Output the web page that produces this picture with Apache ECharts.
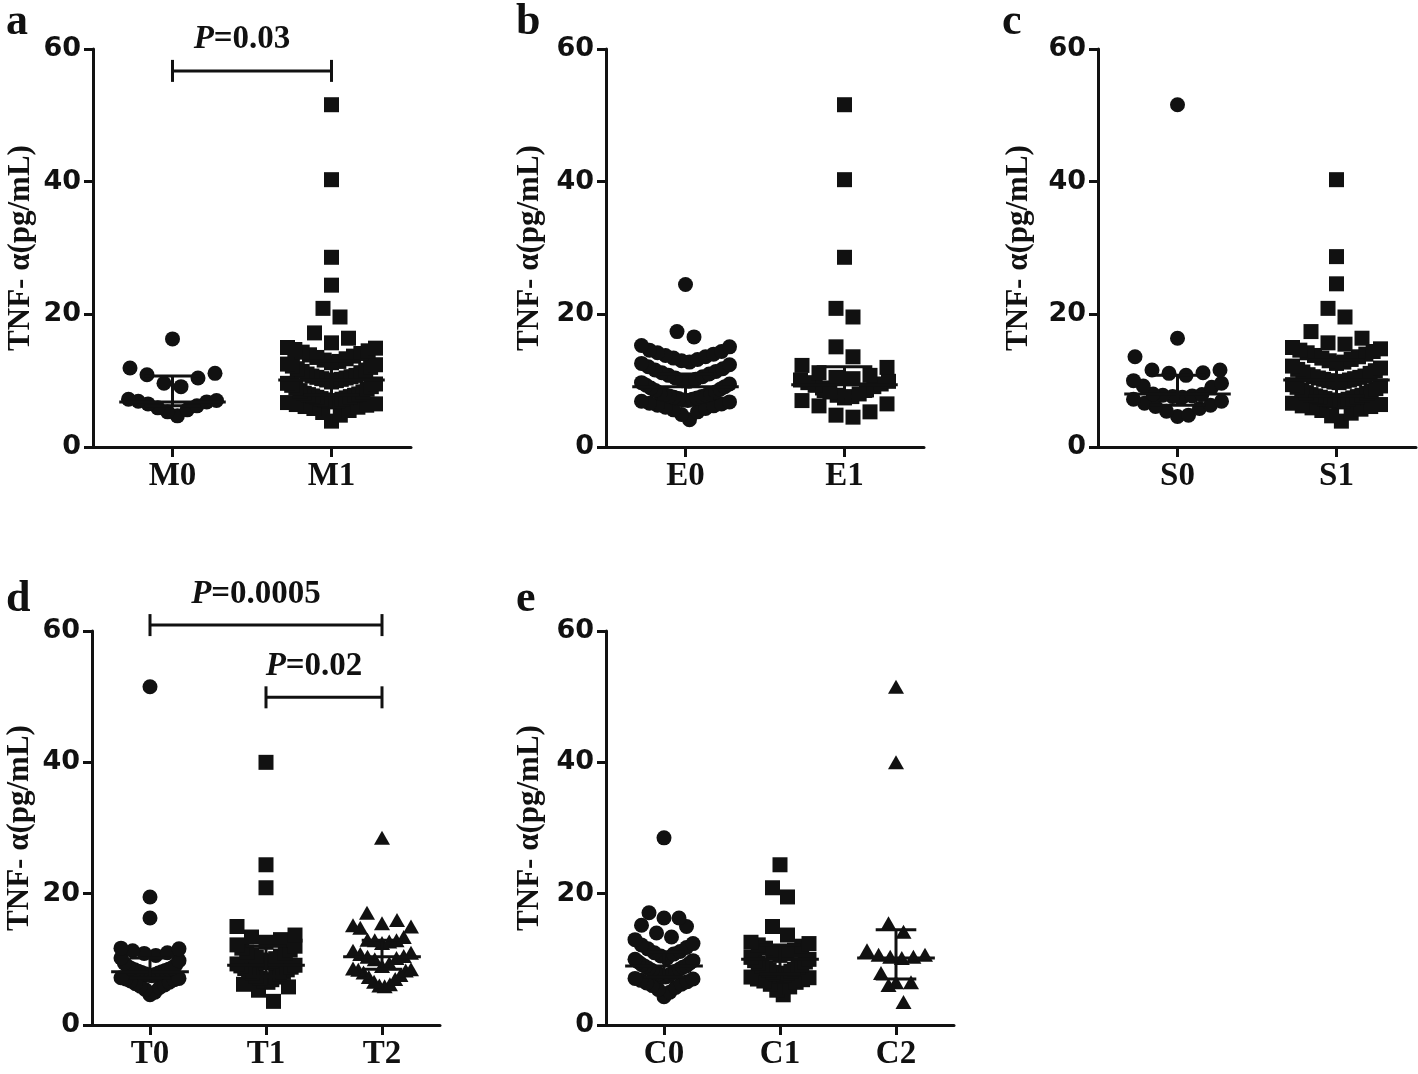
<!DOCTYPE html>
<html><head><meta charset="utf-8">
<script src="https://cdn.jsdelivr.net/npm/echarts@6/dist/echarts.min.js"></script>
<style>html,body{margin:0;padding:0;background:#fff}#c{width:1418px;height:1074px}</style>
</head><body><div id="c"></div>
<script>
// ---------------- data ----------------
const yTicks = [0, 20, 40, 60];
const yTitle = 'TNF- α(pg/mL)';

const catsA = ['M0', 'M1'];
const catsB = ['E0', 'E1'];
const catsC = ['S0', 'S1'];
const catsD = ['T0', 'T1', 'T2'];
const catsE = ['C0', 'C1', 'C2'];

const M0 = [4.7, 5.3, 5.6, 5.9, 6.2, 6.5, 6.8, 6.9, 7.0, 7.2, 9.1, 9.6, 10.4, 10.9, 11.1, 11.9, 16.3];
const M1 = [3.9, 4.8, 5.2, 5.5, 5.8, 6.0, 6.1, 6.3, 6.4, 6.5,
  6.7, 6.8, 6.9, 7.0, 7.1, 7.2, 7.3, 7.4, 7.5, 7.6, 7.7, 7.8, 7.9, 8.0, 8.1, 8.3, 8.5, 8.7, 8.9, 9.1,
  9.3, 9.5, 9.6, 9.8, 10.0, 10.1, 10.2, 10.3, 10.4, 10.5, 10.6, 10.7, 10.8, 11.0, 11.2, 11.4, 11.6, 11.8, 12.0,
  12.2, 12.4, 12.5, 12.7, 12.9, 13.1, 13.3, 13.5, 13.7, 13.9, 14.1, 14.3, 14.5, 14.7, 14.9, 15.0,
  15.7, 16.4, 17.2, 19.6, 20.9, 24.4, 28.6, 40.3, 51.6];

const E0 = [4.1, 4.9, 5.3, 5.6, 5.8, 6.0, 6.2, 6.3, 6.5, 6.6, 6.8, 6.9,
  7.0, 7.1, 7.2, 7.3, 7.4, 7.5, 7.6, 7.7, 7.8, 7.9, 8.0, 8.1, 8.3, 8.5, 8.7, 8.9, 9.1, 9.3, 9.5,
  9.7, 9.9, 10.0, 10.2, 10.4, 10.6, 10.8, 11.0, 11.2, 11.4, 11.6, 11.8, 12.1,
  12.4, 12.6, 12.8, 13.0, 13.2, 13.4, 13.6, 13.8, 14.0, 14.2, 14.4, 14.6,
  15.1, 15.3, 16.6, 17.4, 24.5];
const E1 = [4.5, 4.8, 5.3, 6.2, 6.5, 7.0, 7.4, 7.6, 7.8, 8.0, 8.3, 8.6, 8.9, 9.1, 9.3, 9.5, 9.7, 9.9,
  10.1, 10.3, 10.5, 10.8, 11.2, 12.0, 12.3, 13.6, 15.1, 19.6, 20.9, 28.6, 40.3, 51.6];

const S0 = [4.6, 4.8, 5.4, 5.8, 6.1, 6.3, 6.6, 6.9, 7.2, 7.5, 7.6, 7.7, 7.8, 7.9, 8.0, 9.0, 9.2, 9.6, 10.0,
  10.8, 11.1, 11.2, 11.6, 11.6, 13.6, 16.4, 51.6];
const S1 = [3.9, 4.7, 5.1, 5.5, 5.7, 5.9, 6.1, 6.2, 6.4, 6.6,
  6.8, 6.9, 7.0, 7.1, 7.2, 7.3, 7.4, 7.5, 7.6, 7.7, 7.8, 7.9, 8.1, 8.2, 8.4, 8.6, 8.8, 9.0, 9.2, 9.4,
  9.7, 9.8, 9.9, 10.0, 10.1, 10.2, 10.3, 10.4, 10.5, 10.6, 10.7, 10.9, 11.1, 11.3, 11.5, 11.7, 11.9, 12.2,
  12.6, 12.8, 13.0, 13.2, 13.4, 13.6, 13.8, 14.0, 14.2, 14.4, 14.6, 14.8, 15.0,
  15.5, 15.7, 16.4, 17.4, 19.6, 20.9, 24.6, 28.7, 40.3];

const T0 = [4.6, 5.0, 5.4, 5.7, 5.9, 6.1, 6.3, 6.5, 6.7, 6.9, 7.0, 7.1, 7.2,
  7.5, 7.6, 7.7, 7.8, 7.9, 8.0, 8.1, 8.2, 8.3, 8.4, 8.5, 8.6, 8.7, 8.9, 9.1, 9.4, 9.8, 10.2,
  10.6, 10.9, 11.0, 11.3, 11.6, 11.7, 16.3, 19.5, 51.5];
const T1 = [3.6, 5.3, 5.8, 6.2, 6.5, 6.7, 6.9, 7.1, 7.3, 7.5, 7.7, 7.9, 8.0, 8.2, 8.4, 8.6, 8.8, 9.0, 9.1,
  9.3, 9.5, 9.7, 9.9, 10.1, 10.3, 10.5, 10.7, 10.9, 11.1, 11.4, 11.7, 12.0, 12.2,
  12.6, 13.0, 13.4, 13.7, 15.0, 20.9, 24.4, 40.0];
const T2 = [5.9, 6.0, 6.2, 6.6, 7.0, 7.3, 7.6, 8.0, 8.3, 8.4, 8.5, 8.6, 9.0, 9.4, 10.0, 10.2, 10.4, 10.5,
  10.8, 11.0, 11.3, 12.5, 12.7, 12.9, 12.9, 13.0, 13.4, 14.8, 15.0, 15.2, 15.5, 16.0, 17.1, 28.5];

const C0 = [4.3, 5.0, 5.4, 5.7, 6.0, 6.2, 6.4, 6.6, 6.8, 7.0, 7.1,
  7.3, 7.4, 7.6, 7.8, 7.9, 8.0, 8.2, 8.3, 8.5, 8.6, 8.8, 8.9, 9.0, 9.2, 9.4, 9.6, 9.8, 10.0,
  10.2, 10.5, 10.8, 11.0, 11.2, 11.6, 11.8, 12.2, 12.4, 13.0, 13.4, 14.0, 15.0, 15.2, 16.3, 16.3, 17.1, 28.5];
const C1 = [4.6, 5.3, 5.8, 6.2, 6.5, 6.7, 6.9, 7.0, 7.2, 7.3, 7.5, 7.6, 7.8, 7.9, 8.0, 8.2, 8.4, 8.5, 8.7,
  8.9, 9.0, 9.2, 9.4, 9.6, 9.8, 10.0, 10.3, 10.6, 10.9, 11.1, 11.4, 11.7, 12.0, 12.2, 12.4, 12.6,
  13.7, 15.0, 19.5, 20.9, 24.4];
const C2 = [3.5, 6.1, 6.5, 6.5, 7.9, 10.2, 10.4, 10.4, 10.7, 10.7, 11.4, 14.2, 15.5, 40.0, 51.5];

// median and interquartile range lines
const medA = [6.8, 10.1], q1A = [6.2, 7.8], q3A = [10.7, 13.0];
const medB = [9.1, 9.4], q1B = [7.3, 7.6], q3B = [11.0, 12.1];
const medC = [8.0, 10.1], q1C = [6.3, 7.7], q3C = [10.8, 13.1];
const medD = [8.1, 9.1, 10.4], q1D = [7.2, 7.4, 8.5], q3D = [10.2, 12.0, 12.9];
const medE = [9.0, 10.0, 10.2], q1E = [7.3, 7.8, 7.0], q3E = [11.1, 12.2, 14.5];

// significance brackets: [fromCategory, toCategory, y value]
const sigA = [[0, 1, 56.7]];
const sigALabels = ['0.03'];
const sigD = [[0, 2, 60.9], [1, 2, 49.9]];
const sigDLabels = ['0.0005', '0.02'];

// ---------------- style / layout ----------------
const INK = '#111111';
const SERIF = '"Liberation Serif","Times New Roman",serif';
const SANS = '"DejaVu Sans","Liberation Sans",sans-serif';
const SYMS = ['circle', 'rect', 'triangle'];
const SYM_SIZE = { circle: 15, rect: 15, triangle: [16, 14] };

const panels = [
  { letter: 'a', lx: 6, ly: 1, left: 93, top: 49, width: 318, height: 398, cats: catsA, groups: [M0, M1], med: medA, q1: q1A, q3: q3A, gap: 57, sig: sigA, sigL: sigALabels, sMax: 17, maxW: 88 },
  { letter: 'b', lx: 516, ly: 1, left: 606, top: 49, width: 318, height: 398, cats: catsB, groups: [E0, E1], med: medB, q1: q1B, q3: q3B, gap: 61, sig: [], sigL: [], sMax: 17, maxW: 88 },
  { letter: 'c', lx: 1002, ly: 1, left: 1098, top: 49, width: 318, height: 398, cats: catsC, groups: [S0, S1], med: medC, q1: q1C, q3: q3C, gap: 64, sig: [], sigL: [], sMax: 17, maxW: 88 },
  { letter: 'd', lx: 6, ly: 578, left: 92, top: 631, width: 348, height: 394, cats: catsD, groups: [T0, T1, T2], med: medD, q1: q1D, q3: q3D, gap: 57, sig: sigD, sigL: sigDLabels, sMax: 15, maxW: 58 },
  { letter: 'e', lx: 516, ly: 578, left: 606, top: 631, width: 348, height: 394, cats: catsE, groups: [C0, C1, C2], med: medE, q1: q1E, q3: q3E, gap: 61, sig: [], sigL: [], sMax: 15, maxW: 58 }
];

// GraphPad-like scatter rows: values grouped into rows from the lowest up,
// within a row the lowest sits in the middle and higher ones alternate outwards.
function swarmOffsets(values, pxPerUnit, binPx, sMax, maxW) {
  const idx = values.map((v, i) => i).sort((a, b) => values[a] - values[b]);
  const off = new Array(values.length).fill(0);
  let bin = [], start = null;
  const flush = () => {
    const n = bin.length;
    const s = n > 1 ? Math.min(sMax, maxW / (n - 1)) : 0;
    bin.forEach((id, k) => {
      let o;
      if (n % 2) { const m = Math.ceil(k / 2); o = k === 0 ? 0 : (k % 2 ? 1 : -1) * m * s; }
      else { const m = Math.floor(k / 2); o = (k % 2 ? -1 : 1) * (m + 0.5) * s; }
      off[id] = o;
    });
    bin = [];
  };
  idx.forEach(id => {
    const v = values[id];
    if (start === null || (v - start) * pxPerUnit > binPx) { if (bin.length) flush(); start = v; }
    bin.push(id);
  });
  flush();
  return off;
}

const yMax = yTicks[yTicks.length - 1];
const option = { animation: false, backgroundColor: '#fff', title: [], grid: [], xAxis: [], yAxis: [], series: [] };

panels.forEach((p, pi) => {
  option.title.push({ text: p.letter, left: p.lx, top: p.ly, padding: 0,
    textStyle: { fontFamily: SERIF, fontWeight: 'bold', fontSize: 44, color: INK } });
  option.grid.push({ left: p.left, top: p.top, width: p.width, height: p.height, containLabel: false });
  option.xAxis.push({
    type: 'category', gridIndex: pi, data: p.cats, boundaryGap: true,
    axisLine: { show: true, lineStyle: { color: INK, width: 3 } },
    axisTick: { show: true, alignWithLabel: true, length: 10, lineStyle: { color: INK, width: 3 } },
    axisLabel: { fontFamily: SERIF, fontWeight: 'bold', fontSize: 33, color: INK, margin: 13 },
    splitLine: { show: false }
  });
  option.yAxis.push({
    type: 'value', gridIndex: pi, min: yTicks[0], max: yMax, interval: yTicks[1] - yTicks[0],
    axisLine: { show: true, lineStyle: { color: INK, width: 3 } },
    axisTick: { show: true, length: 9, lineStyle: { color: INK, width: 3 } },
    axisLabel: { fontFamily: SANS, fontWeight: 'bold', fontSize: 27, color: INK, margin: 12 },
    splitLine: { show: false },
    name: yTitle, nameLocation: 'middle', nameRotate: 90, nameGap: p.gap,
    nameTextStyle: { fontFamily: SERIF, fontWeight: 'bold', fontSize: 31, color: INK }
  });
  const pxPerUnit = p.height / (yMax - yTicks[0]);
  p.groups.forEach((vals, gi) => {
    const sym = SYMS[gi];
    const off = swarmOffsets(vals, pxPerUnit, 19, p.sMax, p.maxW);
    option.series.push({
      type: 'scatter', xAxisIndex: pi, yAxisIndex: pi, symbol: sym, symbolSize: SYM_SIZE[sym],
      itemStyle: { color: INK, opacity: 1 }, z: 2, silent: true,
      data: vals.map((v, i) => ({ value: [gi, v], symbolOffset: [off[i], 0] }))
    });
  });
  // median + IQR
  option.series.push({
    type: 'custom', xAxisIndex: pi, yAxisIndex: pi, z: 3, silent: true, clip: false,
    encode: { x: 0, y: [1, 2, 3] },
    data: p.cats.map((c, i) => [i, p.med[i], p.q1[i], p.q3[i]]),
    renderItem(params, api) {
      const i = api.value(0);
      const pm = api.coord([i, api.value(1)]);
      const p1 = api.coord([i, api.value(2)]);
      const p3 = api.coord([i, api.value(3)]);
      const band = api.size([1, 0])[0];
      const mw = band * 0.335, cw = band * 0.175;
      const st = { stroke: INK, lineWidth: 3 };
      return { type: 'group', children: [
        { type: 'line', shape: { x1: pm[0] - mw, y1: pm[1], x2: pm[0] + mw, y2: pm[1] }, style: st },
        { type: 'line', shape: { x1: p1[0], y1: p1[1], x2: p3[0], y2: p3[1] }, style: st },
        { type: 'line', shape: { x1: p1[0] - cw, y1: p1[1], x2: p1[0] + cw, y2: p1[1] }, style: st },
        { type: 'line', shape: { x1: p3[0] - cw, y1: p3[1], x2: p3[0] + cw, y2: p3[1] }, style: st }
      ] };
    }
  });
  if (p.sig.length) {
    const labels = p.sigL;
    option.series.push({
      type: 'custom', xAxisIndex: pi, yAxisIndex: pi, z: 4, silent: true, clip: false,
      encode: { x: [0, 1], y: 2 },
      data: p.sig,
      renderItem(params, api) {
        const a = api.coord([api.value(0), api.value(2)]);
        const b = api.coord([api.value(1), api.value(2)]);
        const h = 11;
        const st = { stroke: INK, lineWidth: 3 };
        return { type: 'group', children: [
          { type: 'line', shape: { x1: a[0], y1: a[1], x2: b[0], y2: b[1] }, style: st },
          { type: 'line', shape: { x1: a[0], y1: a[1] - h, x2: a[0], y2: a[1] + h }, style: st },
          { type: 'line', shape: { x1: b[0], y1: b[1] - h, x2: b[0], y2: b[1] + h }, style: st },
          { type: 'text', x: (a[0] + b[0]) / 2 - 10, y: a[1] - 31,
            style: { text: '{i|P}{n|=' + labels[params.dataIndex] + '}', align: 'center', verticalAlign: 'middle', fill: INK,
              rich: {
                i: { fontFamily: SERIF, fontWeight: 'bold', fontStyle: 'italic', fontSize: 33, fill: INK, color: INK },
                n: { fontFamily: SERIF, fontWeight: 'bold', fontSize: 33, fill: INK, color: INK }
              } } }
        ] };
      }
    });
  }
});

const chart = echarts.init(document.getElementById('c'), null, { renderer: 'canvas' });
chart.setOption(option);
</script>
</body></html>
